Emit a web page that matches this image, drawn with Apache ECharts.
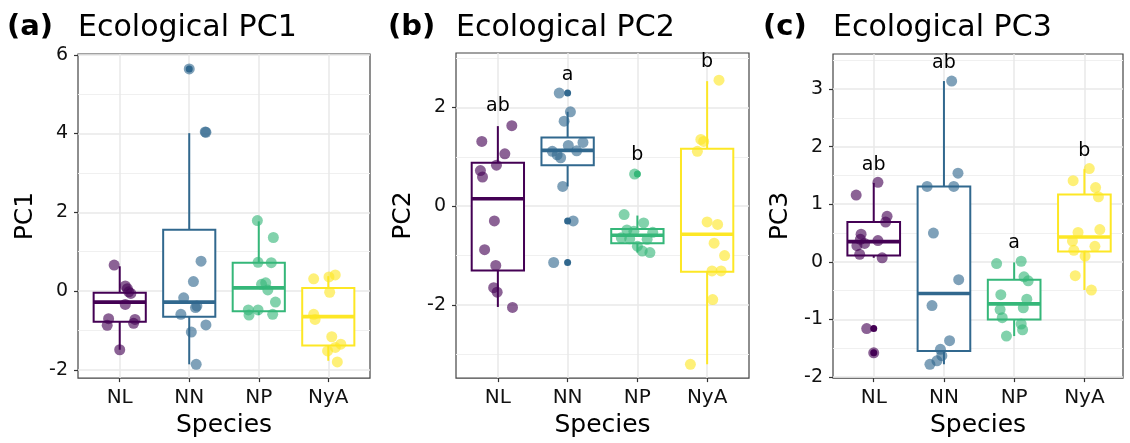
<!DOCTYPE html>
<html><head><meta charset="utf-8">
<script src="https://cdn.jsdelivr.net/npm/echarts@6/dist/echarts.min.js"></script>
<style>html,body{margin:0;padding:0;background:#fff}#c{width:1130px;height:443px}</style>
</head><body><div id="c"></div><script>
const species = ['NL', 'NN', 'NP', 'NyA'];
const speciesColors = ['#440154', '#31688E', '#35B779', '#FDE725'];
const panelTags = ['(a)', '(b)', '(c)'];
const panelTitles = ['Ecological PC1', 'Ecological PC2', 'Ecological PC3'];
const yNames = ['PC1', 'PC2', 'PC3'];
const xTitle = 'Species';

// box statistics per species: [lower whisker, Q1, median, Q3, upper whisker]
const pc1Boxes = [[-1.49, -0.78, -0.28, -0.04, 0.63], [-1.86, -0.65, -0.28, 1.56, 4.01], [-0.61, -0.51, 0.08, 0.72, 1.77], [-1.77, -1.38, -0.65, 0.08, 0.38]];
const pc2Boxes = [[-2.04, -1.30, 0.15, 0.88, 1.62], [0.40, 0.83, 1.13, 1.39, 1.91], [-0.94, -0.75, -0.59, -0.46, -0.19], [-3.20, -1.33, -0.57, 1.16, 2.53]];
const pc3Boxes = [[0.07, 0.11, 0.35, 0.69, 1.37], [-1.78, -1.55, -0.55, 1.31, 3.14], [-1.29, -1.00, -0.73, -0.31, -0.01], [-0.49, 0.18, 0.43, 1.17, 1.61]];

// boxplot outliers: [species index, value]
const pc1Outliers = [[1, 5.64]];
const pc2Outliers = [[1, 2.29], [1, -0.30], [1, -1.14], [2, 0.65]];
const pc3Outliers = [[0, -1.16], [0, -1.58]];

// jittered observations: [species index, jitter, value]
const pc1Points = [
  [0, -0.08, 0.66], [0, 0.08, 0.13], [0, 0.11, 0.06], [0, 0.13, -0.02], [0, 0.16, -0.06], [0, 0.08, -0.34], [0, -0.16, -0.70], [0, -0.18, -0.87], [0, 0.22, -0.72], [0, 0.20, -0.82], [0, 0.00, -1.49],
  [1, 0.00, 5.64], [1, 0.24, 4.03], [1, 0.23, 4.04], [1, 0.17, 0.76], [1, 0.06, 0.24], [1, -0.08, -0.17], [1, 0.11, -0.38], [1, 0.09, -0.42], [1, -0.12, -0.59], [1, 0.24, -0.86], [1, 0.03, -1.04], [1, 0.10, -1.86],
  [2, -0.02, 1.79], [2, 0.21, 1.36], [2, -0.01, 0.73], [2, 0.18, 0.72], [2, 0.04, 0.17], [2, 0.10, 0.21], [2, 0.13, 0.03], [2, 0.24, -0.28], [2, -0.15, -0.48], [2, -0.14, -0.61], [2, -0.01, -0.48], [2, 0.20, -0.59],
  [3, -0.21, 0.31], [3, 0.01, 0.36], [3, 0.10, 0.41], [3, 0.02, -0.03], [3, -0.21, -0.59], [3, -0.19, -0.72], [3, 0.05, -1.16], [3, 0.18, -1.35], [3, 0.10, -1.43], [3, -0.01, -1.52], [3, 0.13, -1.80]
];
const pc2Points = [
  [0, 0.20, 1.63], [0, -0.23, 1.31], [0, 0.10, 1.06], [0, -0.02, 0.83], [0, -0.25, 0.72], [0, -0.22, 0.59], [0, -0.05, -0.30], [0, -0.19, -0.88], [0, -0.03, -1.20], [0, -0.06, -1.65], [0, -0.01, -1.74], [0, 0.21, -2.05],
  [1, -0.12, 2.29], [1, 0.04, 1.91], [1, -0.05, 1.72], [1, 0.22, 1.29], [1, 0.01, 1.23], [1, -0.22, 1.11], [1, -0.15, 1.04], [1, -0.10, 0.98], [1, 0.13, 1.12], [1, -0.07, 0.40], [1, 0.08, -0.30], [1, -0.20, -1.14],
  [2, -0.04, 0.65], [2, -0.19, -0.17], [2, 0.09, -0.34], [2, -0.15, -0.48], [2, -0.05, -0.51], [2, 0.22, -0.53], [2, -0.23, -0.64], [2, -0.11, -0.66], [2, 0.14, -0.67], [2, 0.00, -0.81], [2, 0.07, -0.91], [2, 0.18, -0.94],
  [3, 0.17, 2.55], [3, -0.09, 1.35], [3, -0.05, 1.31], [3, -0.14, 1.11], [3, 0.00, -0.32], [3, 0.15, -0.37], [3, 0.10, -0.75], [3, 0.25, -1.00], [3, 0.07, -1.31], [3, 0.20, -1.31], [3, 0.08, -1.89], [3, -0.24, -3.20]
];
const pc3Points = [
  [0, 0.06, 1.38], [0, -0.25, 1.16], [0, 0.19, 0.79], [0, 0.17, 0.69], [0, -0.18, 0.48], [0, -0.19, 0.39], [0, -0.13, 0.32], [0, 0.06, 0.37], [0, -0.24, 0.28], [0, -0.20, 0.13], [0, 0.12, 0.07], [0, -0.10, -1.16], [0, 0.00, -1.58],
  [1, 0.11, 3.14], [1, 0.20, 1.54], [1, -0.24, 1.31], [1, 0.14, 1.31], [1, -0.15, 0.50], [1, 0.21, -0.31], [1, -0.17, -0.76], [1, 0.08, -1.37], [1, -0.05, -1.52], [1, -0.03, -1.63], [1, -0.10, -1.72], [1, -0.20, -1.78],
  [2, -0.25, -0.03], [2, 0.10, 0.01], [2, 0.14, -0.26], [2, 0.20, -0.33], [2, -0.19, -0.57], [2, 0.18, -0.65], [2, -0.20, -0.83], [2, 0.13, -0.80], [2, -0.17, -0.97], [2, 0.10, -1.08], [2, 0.12, -1.18], [2, -0.11, -1.29],
  [3, 0.07, 1.62], [3, -0.16, 1.41], [3, 0.16, 1.29], [3, 0.20, 1.13], [3, -0.09, 0.51], [3, 0.22, 0.56], [3, -0.17, 0.36], [3, -0.15, 0.20], [3, 0.15, 0.27], [3, 0.01, 0.10], [3, -0.13, -0.24], [3, 0.10, -0.49]
];

// significance letters: [species index, letter, value]
const pc1Letters = [];
const pc2Letters = [[0, 'ab', 2.02], [1, 'a', 2.66], [2, 'b', 1.04], [3, 'b', 2.91]];
const pc3Letters = [[0, 'ab', 1.68], [1, 'ab', 3.46], [2, 'a', 0.32], [3, 'b', 1.92]];

// axes
const pc1Ticks = [-2, 0, 2, 4, 6];
const pc2Ticks = [-2, 0, 2];
const pc3Ticks = [-2, -1, 0, 1, 2, 3];
const pc1Range = [-2.21, 6.02];
const pc2Range = [-3.48, 3.10];
const pc3Range = [-2.02, 3.61];

const panels = [
  { boxes: pc1Boxes, outliers: pc1Outliers, points: pc1Points, letters: pc1Letters, ticks: pc1Ticks, range: pc1Range, split: 5 },
  { boxes: pc2Boxes, outliers: pc2Outliers, points: pc2Points, letters: pc2Letters, ticks: pc2Ticks, range: pc2Range, split: 3 },
  { boxes: pc3Boxes, outliers: pc3Outliers, points: pc3Points, letters: pc3Letters, ticks: pc3Ticks, range: pc3Range, split: 5 }
];
const gridPos = [
  { left: 78, top: 54, width: 292, height: 325, xr: [-0.6, 3.6] },
  { left: 456, top: 53, width: 293, height: 326, xr: [-0.6, 3.6] },
  { left: 833, top: 54, width: 290, height: 325, xr: [-0.58, 3.55] }
];
const tagLeft = [7, 388, 763];

const FONT = 'DejaVu Sans';
const chart = echarts.init(document.getElementById('c'), null, { renderer: 'canvas' });

const titles = [], grids = [], xAxes = [], yAxes = [], series = [];
panels.forEach((p, k) => {
  const g = gridPos[k];
  titles.push({ text: panelTags[k], left: tagLeft[k], top: 13, padding: 0, textStyle: { fontFamily: FONT, fontSize: 29, fontWeight: 'bold', color: '#000' } });
  titles.push({ text: panelTitles[k], left: g.left, top: 13, padding: 0, textStyle: { fontFamily: FONT, fontSize: 30, fontWeight: 'normal', color: '#000' } });
  grids.push({ left: g.left, top: g.top, width: g.width, height: g.height, show: true, borderColor: '#444', borderWidth: 1.2, backgroundColor: '#fff' });
  xAxes.push({
    gridIndex: k, type: 'value', min: g.xr[0], max: g.xr[1], position: 'bottom',
    name: xTitle, nameLocation: 'middle', nameGap: 28,
    nameTextStyle: { fontFamily: FONT, fontSize: 25, color: '#000' },
    axisLine: { show: false, onZero: false },
    axisTick: { show: true, customValues: [0, 1, 2, 3], length: 4, lineStyle: { color: '#333', width: 1.2 } },
    axisLabel: { customValues: [0, 1, 2, 3], margin: 10, fontFamily: FONT, fontSize: 20, color: '#111', formatter: v => species[Math.round(v)] },
    splitLine: { show: true, lineStyle: { color: '#e8e8e8', width: 1.5 } }
  });
  yAxes.push({
    gridIndex: k, type: 'value', min: p.range[0], max: p.range[1], splitNumber: p.split, position: 'left',
    name: yNames[k], nameLocation: 'middle', nameGap: 40, nameRotate: 90,
    nameTextStyle: { fontFamily: FONT, fontSize: 25, color: '#000' },
    axisLine: { show: false, onZero: false },
    axisTick: { show: true, customValues: p.ticks, length: 4, lineStyle: { color: '#333', width: 1.2 } },
    axisLabel: { customValues: p.ticks, margin: 10, fontFamily: FONT, fontSize: 19, color: '#111' },
    splitLine: { show: true, lineStyle: { color: '#e8e8e8', width: 1.5 } },
    minorTick: { show: false, splitNumber: 2 },
    minorSplitLine: { show: true, lineStyle: { color: '#f0f0f0', width: 1 } }
  });
  series.push({
    type: 'custom', xAxisIndex: k, yAxisIndex: k, z: 2,
    data: p.boxes.map((b, i) => [i].concat(b)),
    encode: { x: 0, y: [1, 2, 3, 4, 5] },
    renderItem: function (params, api) {
      const i = api.value(0);
      const c = speciesColors[i];
      const pLo = api.coord([i, api.value(1)]);
      const pQ1 = api.coord([i, api.value(2)]);
      const pMed = api.coord([i, api.value(3)]);
      const pQ3 = api.coord([i, api.value(4)]);
      const pHi = api.coord([i, api.value(5)]);
      const half = api.size([0.75, 0])[0] / 2;
      const x = pQ1[0];
      return {
        type: 'group', children: [
          { type: 'line', shape: { x1: x, y1: pHi[1], x2: x, y2: pQ3[1] }, style: { stroke: c, lineWidth: 2 } },
          { type: 'line', shape: { x1: x, y1: pQ1[1], x2: x, y2: pLo[1] }, style: { stroke: c, lineWidth: 2 } },
          { type: 'rect', shape: { x: x - half, y: pQ3[1], width: 2 * half, height: pQ1[1] - pQ3[1] }, style: { fill: '#fff', stroke: c, lineWidth: 2 } },
          { type: 'line', shape: { x1: x - half, y1: pMed[1], x2: x + half, y2: pMed[1] }, style: { stroke: c, lineWidth: 3.6 } }
        ]
      };
    }
  });
  series.push({
    type: 'scatter', xAxisIndex: k, yAxisIndex: k, z: 3, symbolSize: 7,
    data: p.outliers.map(o => [o[0], o[1], o[0]]),
    itemStyle: { color: prm => speciesColors[prm.data[2]], opacity: 1 }
  });
  series.push({
    type: 'scatter', xAxisIndex: k, yAxisIndex: k, z: 4, symbolSize: 11,
    data: p.points.map(q => [q[0] + q[1], q[2], q[0]]),
    itemStyle: { color: prm => speciesColors[prm.data[2]], opacity: 0.62 }
  });
  if (p.letters.length) {
    series.push({
      type: 'scatter', xAxisIndex: k, yAxisIndex: k, z: 5, symbolSize: 0,
      data: p.letters.map(l => ({ value: [l[0], l[2]], name: l[1] })),
      label: { show: true, position: 'inside', formatter: prm => prm.name, fontFamily: FONT, fontSize: 19, color: '#000', opacity: 1 }
    });
  }
});

chart.setOption({
  animation: false,
  backgroundColor: '#fff',
  title: titles, grid: grids, xAxis: xAxes, yAxis: yAxes, series: series
});
</script></body></html>
